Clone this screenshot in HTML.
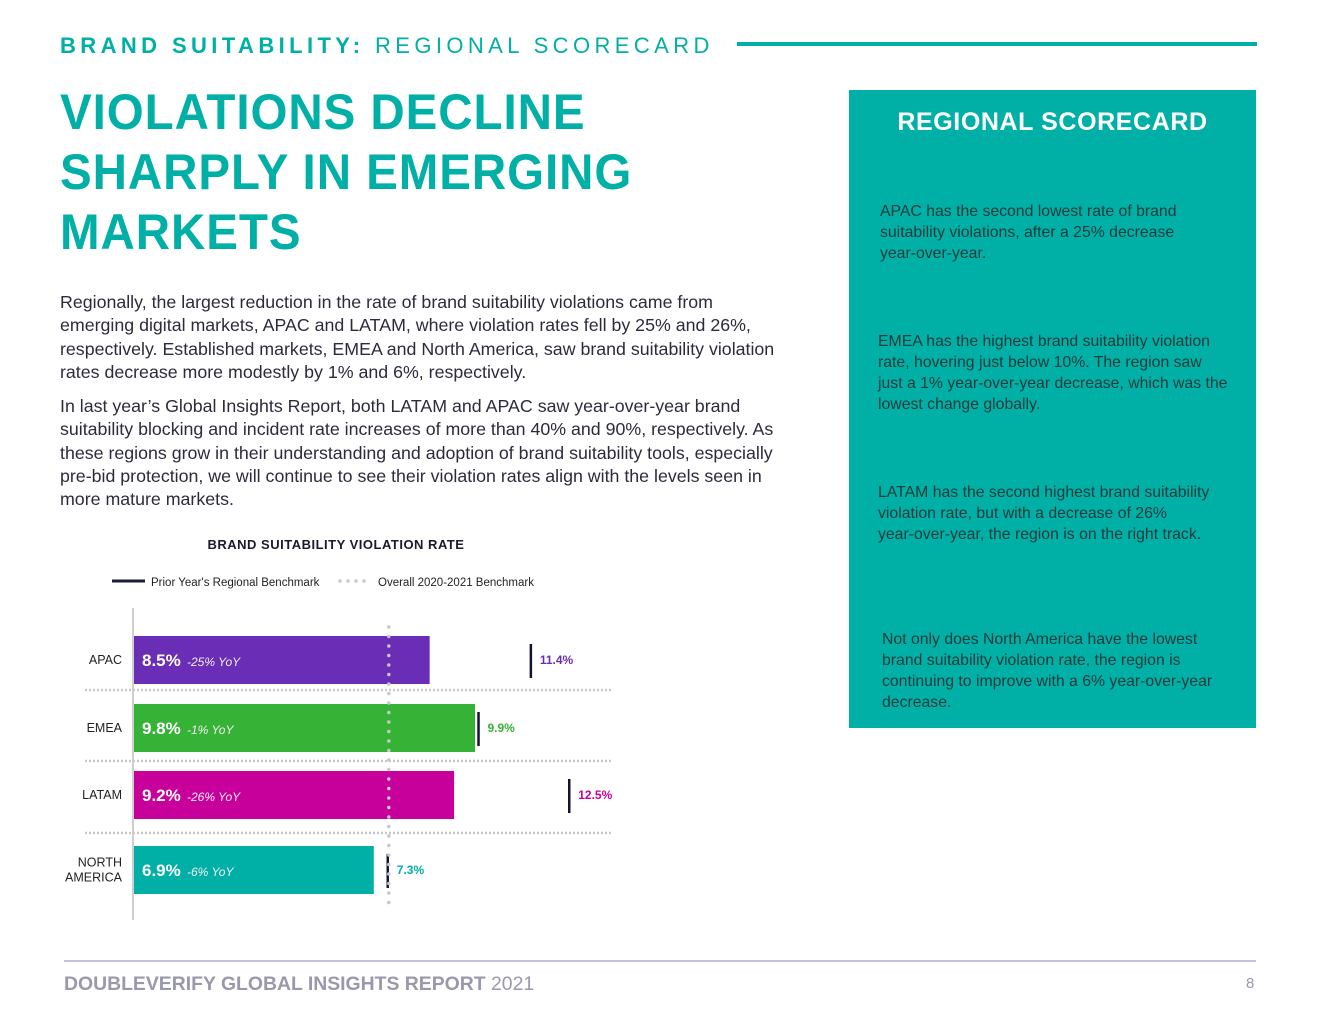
<!DOCTYPE html>
<html><head><meta charset="utf-8">
<style>
*{margin:0;padding:0;box-sizing:border-box}
body{width:1320px;height:1020px;background:#fff;font-family:"Liberation Sans",sans-serif;position:relative;overflow:hidden;color:#2b2b3b}
.abs{position:absolute}
.kicker{left:60px;top:33px;font-size:22px;letter-spacing:4.4px;color:#00afa5;white-space:nowrap}
.kicker b{font-weight:700}
.kicker span{font-weight:400}
.rule{left:737px;top:42px;width:520px;height:4px;background:#00afa5}
.title{left:60px;top:82px;font-size:50px;font-weight:700;color:#00afa5;line-height:60px;white-space:nowrap;transform:scaleX(0.95);transform-origin:left top;letter-spacing:1px}
.body{left:60px;font-size:17.8px;line-height:23.3px;color:#2b2b3b;white-space:nowrap}
.panel{left:849px;top:90px;width:407px;height:638px;background:#00b0a6}
.panel h2{position:absolute;left:0;top:18px;width:407px;text-align:center;color:#fff;font-size:25px;letter-spacing:0.6px;font-weight:700}
.pt{position:absolute;font-size:15.8px;line-height:21px;color:#1f3a3a;white-space:nowrap}
.footer-line{left:64px;top:960px;width:1192px;height:2px;background:#c5c3dc}
.footer{left:64px;top:973px;font-size:19.4px;color:#9a98ac;white-space:nowrap}
.footer b{font-weight:700}
.pnum{left:1246px;top:975px;font-size:15px;color:#9a98ac}
</style></head>
<body>
<div class="abs kicker"><b>BRAND SUITABILITY:</b> <span>REGIONAL SCORECARD</span></div>
<div class="abs rule"></div>
<div class="abs title">VIOLATIONS DECLINE<br>SHARPLY IN EMERGING<br>MARKETS</div>

<div class="abs body" style="top:291px">Regionally, the largest reduction in the rate of brand suitability violations came from<br>emerging digital markets, APAC and LATAM, where violation rates fell by 25% and 26%,<br>respectively. Established markets, EMEA and North America, saw brand suitability violation<br>rates decrease more modestly by 1% and 6%, respectively.</div>
<div class="abs body" style="top:395px">In last year’s Global Insights Report, both LATAM and APAC saw year-over-year brand<br>suitability blocking and incident rate increases of more than 40% and 90%, respectively. As<br>these regions grow in their understanding and adoption of brand suitability tools, especially<br>pre-bid protection, we will continue to see their violation rates align with the levels seen in<br>more mature markets.</div>

<svg class="abs" style="left:0;top:0" width="800" height="950">
<text x="336" y="549" text-anchor="middle" font-family="Liberation Sans" font-weight="700" font-size="13" letter-spacing="0.5" fill="#1a1a2e">BRAND SUITABILITY VIOLATION RATE</text>
<g>
<line x1="112" y1="581" x2="145" y2="581" stroke="#1a1a3a" stroke-width="3"/>
<text x="151" y="586" font-family="Liberation Sans" font-size="11.5" fill="#222">Prior Year's Regional Benchmark</text>
<line x1="340" y1="581" x2="372" y2="581" stroke="#c8c8cc" stroke-width="3.5" stroke-dasharray="0,8" stroke-linecap="round"/>
<text x="378" y="586" font-family="Liberation Sans" font-size="11.5" fill="#222">Overall 2020-2021 Benchmark</text>
</g>
<g id="plot"></g>
</svg>

<div class="abs panel">
<h2>REGIONAL SCORECARD</h2>
<div class="pt" style="left:31px;top:111px">APAC has the second lowest rate of brand<br>suitability violations, after a 25% decrease<br>year-over-year.</div>
<div class="pt" style="left:29px;top:241px">EMEA has the highest brand suitability violation<br>rate, hovering just below 10%. The region saw<br>just a 1% year-over-year decrease, which was the<br>lowest change globally.</div>
<div class="pt" style="left:29px;top:392px">LATAM has the second highest brand suitability<br>violation rate, but with a decrease of 26%<br>year-over-year, the region is on the right track.</div>
<div class="pt" style="left:33px;top:539px">Not only does North America have the lowest<br>brand suitability violation rate, the region is<br>continuing to improve with a 6% year-over-year<br>decrease.</div>
</div>

<div class="abs footer-line"></div>
<div class="abs footer"><b>DOUBLEVERIFY GLOBAL INSIGHTS REPORT</b> 2021</div>
<div class="abs pnum">8</div>

<script>
const regions = ["APAC","EMEA","LATAM","NORTH AMERICA"];
const rates = [8.5, 9.8, 9.2, 6.9];
const yoy = ["-25% YoY","-1% YoY","-26% YoY","-6% YoY"];
const priorYear = [11.4, 9.9, 12.5, 7.3];
const overallBenchmark = 7.33;
const colors = ["#6a2db5","#36b236","#c8009b","#00afa5"];

const NS="http://www.w3.org/2000/svg";
const plot=document.getElementById('plot');
const x0=133, scale=34.9;
const xs=v=>x0+v*scale;
const rowTop=[636,704,771,846], barH=48;
function mk(tag,attrs){const e=document.createElementNS(NS,tag);for(const k in attrs)e.setAttribute(k,attrs[k]);plot.appendChild(e);return e;}

[690,761,833].forEach(y=>{
  const l=mk('line',{x1:85,y1:y,x2:612,y2:y,stroke:'#c8c8cc','stroke-width':2.5,'stroke-dasharray':'2,2'});
  
  
});
const ax=mk('line',{x1:x0,y1:608,x2:x0,y2:920,stroke:'#cfcfd2','stroke-width':2});



regions.forEach((r,i)=>{
  const y=rowTop[i];
  const bar=mk('rect',{x:x0+1,y:y,width:xs(rates[i])-x0-1,height:barH,fill:colors[i]});
  
  
  const cy=y+barH/2;
  const lab=mk('text',{x:x0+9,y:cy+6,'font-family':'Liberation Sans','font-size':17,'font-weight':700,fill:'#fff'});
  lab.textContent=rates[i].toFixed(1)+'%';
  
  
  const yl=mk('text',{x:x0+54,y:cy+6,'font-family':'Liberation Sans','font-size':12,'font-style':'italic',fill:'#f0f0f0'});
  yl.textContent=yoy[i];
  
  
  const bx=xs(priorYear[i]);
  const bm=mk('line',{x1:bx,y1:y+8,x2:bx,y2:y+barH-6,stroke:'#141432','stroke-width':2.5});
  
  
  const bt=mk('text',{x:bx+9,y:cy+4,'font-family':'Liberation Sans','font-size':12,'font-weight':700,fill:colors[i]});
  bt.textContent=priorYear[i].toFixed(1)+'%';
  
  
  const parts=r.split(' ');
  parts.forEach((p,j)=>{
    const t=mk('text',{x:122,y:cy+4+(j-(parts.length-1)/2)*15,'text-anchor':'end','font-family':'Liberation Sans','font-size':12.5,fill:'#222'});
    t.textContent=p;
    
    
  });
});
const ox=xs(overallBenchmark);
const ob=mk('line',{x1:ox,y1:627,x2:ox,y2:905,stroke:'#c8c8cc','stroke-width':3.5,'stroke-dasharray':'0,9.5','stroke-linecap':'round'});


</script>
</body></html>
